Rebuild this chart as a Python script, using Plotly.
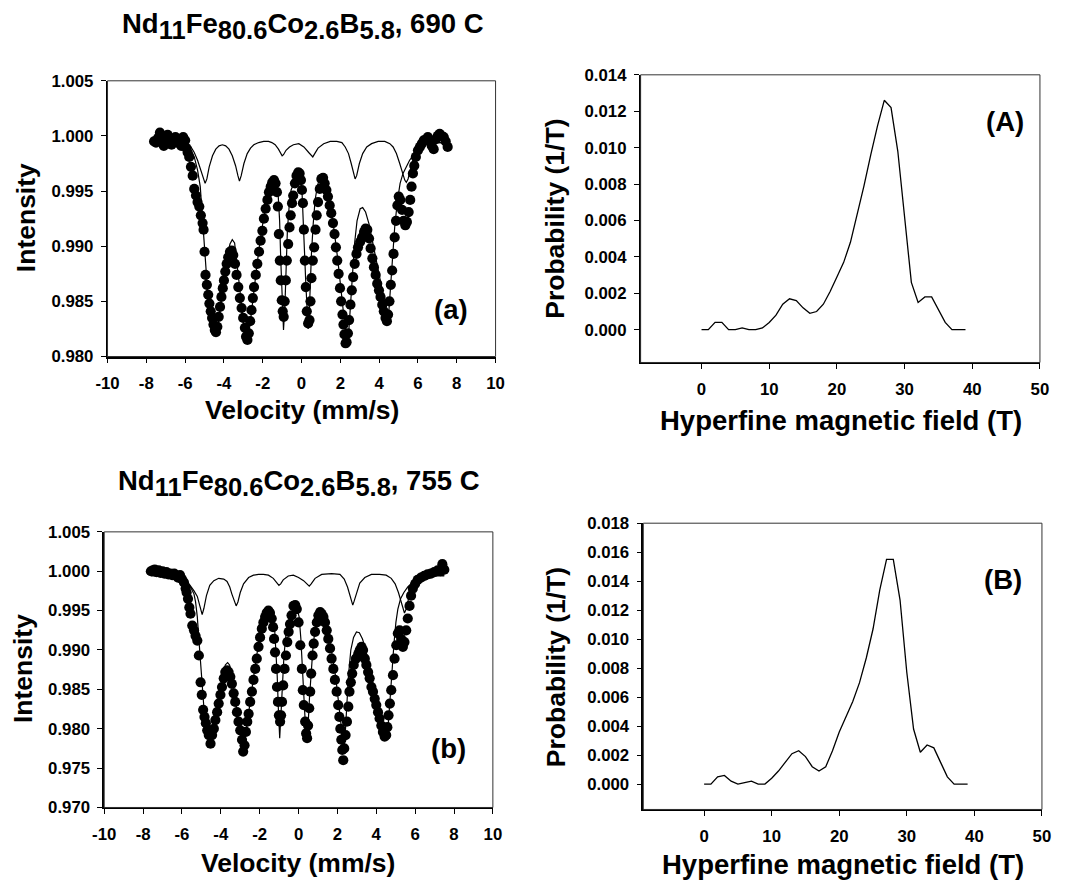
import plotly.graph_objects as go

# ---------------- data ----------------
# Top spectrum (690 C): measured points (velocity mm/s, relative intensity)
top_points = [
    (-7.60, 0.9995), (-7.50, 0.9994), (-7.40, 0.9998), (-7.30, 1.0003), (-7.20, 0.9997), (-7.10, 0.9991),
    (-7.00, 0.9996), (-6.90, 1.0001), (-6.80, 0.9998), (-6.70, 0.9992), (-6.60, 0.9996), (-6.50, 0.9999),
    (-6.40, 0.9994), (-6.30, 0.9997), (-6.20, 0.9991), (-6.10, 0.9999), (-6.00, 0.9996), (-5.93, 0.9989),
    (-5.87, 0.9985), (-5.79, 0.9981), (-5.70, 0.9972), (-5.61, 0.9964), (-5.53, 0.9952), (-5.44, 0.9946),
    (-5.36, 0.9940), (-5.27, 0.9936), (-5.19, 0.9928), (-5.10, 0.9921), (-5.05, 0.9915), (-5.00, 0.9895),
    (-4.95, 0.9874), (-4.88, 0.9865), (-4.81, 0.9856), (-4.75, 0.9848), (-4.68, 0.9841), (-4.61, 0.9835),
    (-4.54, 0.9829), (-4.47, 0.9824), (-4.41, 0.9822), (-4.34, 0.9827), (-4.27, 0.9836), (-4.20, 0.9845),
    (-4.13, 0.9854), (-4.06, 0.9862), (-4.00, 0.9869), (-3.93, 0.9877), (-3.86, 0.9884), (-3.78, 0.9890),
    (-3.69, 0.9895), (-3.60, 0.9896), (-3.52, 0.9892), (-3.43, 0.9884), (-3.35, 0.9874), (-3.26, 0.9863),
    (-3.18, 0.9853), (-3.09, 0.9844), (-3.01, 0.9835), (-2.92, 0.9826), (-2.86, 0.9818), (-2.79, 0.9815),
    (-2.72, 0.9821), (-2.65, 0.9832), (-2.58, 0.9842), (-2.51, 0.9853), (-2.45, 0.9863), (-2.36, 0.9874),
    (-2.28, 0.9884), (-2.19, 0.9895), (-2.11, 0.9905), (-2.02, 0.9914), (-1.94, 0.9925), (-1.85, 0.9934),
    (-1.76, 0.9942), (-1.68, 0.9949), (-1.59, 0.9954), (-1.51, 0.9958), (-1.42, 0.9960), (-1.34, 0.9957),
    (-1.27, 0.9949), (-1.22, 0.9936), (-1.17, 0.9911), (-1.12, 0.9887), (-1.07, 0.9869), (-1.02, 0.9851),
    (-0.97, 0.9841), (-0.92, 0.9836), (-0.87, 0.9850), (-0.81, 0.9869), (-0.76, 0.9887), (-0.69, 0.9902),
    (-0.62, 0.9917), (-0.56, 0.9928), (-0.49, 0.9939), (-0.43, 0.9946), (-0.34, 0.9957), (-0.26, 0.9964),
    (-0.17, 0.9967), (-0.10, 0.9966), (-0.03, 0.9960), (0.02, 0.9951), (0.07, 0.9939), (0.12, 0.9915),
    (0.17, 0.9887), (0.22, 0.9863), (0.27, 0.9841), (0.34, 0.9830), (0.41, 0.9833), (0.46, 0.9850),
    (0.51, 0.9871), (0.58, 0.9887), (0.65, 0.9899), (0.72, 0.9915), (0.78, 0.9928), (0.85, 0.9940),
    (0.94, 0.9952), (1.02, 0.9961), (1.11, 0.9962), (1.19, 0.9957), (1.28, 0.9951), (1.36, 0.9945),
    (1.45, 0.9937), (1.53, 0.9930), (1.62, 0.9921), (1.70, 0.9911), (1.77, 0.9899), (1.84, 0.9887),
    (1.91, 0.9875), (1.98, 0.9862), (2.04, 0.9850), (2.11, 0.9838), (2.16, 0.9829), (2.21, 0.9820),
    (2.27, 0.9812), (2.32, 0.9813), (2.39, 0.9821), (2.45, 0.9833), (2.52, 0.9847), (2.59, 0.9860),
    (2.66, 0.9872), (2.74, 0.9884), (2.83, 0.9893), (2.91, 0.9899), (3.02, 0.9904), (3.12, 0.9908),
    (3.22, 0.9913), (3.30, 0.9916), (3.39, 0.9915), (3.48, 0.9907), (3.56, 0.9898), (3.65, 0.9889),
    (3.73, 0.9881), (3.82, 0.9874), (3.90, 0.9866), (3.99, 0.9860), (4.07, 0.9854), (4.16, 0.9847),
    (4.24, 0.9841), (4.33, 0.9835), (4.40, 0.9832), (4.46, 0.9838), (4.53, 0.9850), (4.60, 0.9865),
    (4.67, 0.9878), (4.74, 0.9893), (4.80, 0.9908), (4.87, 0.9923), (4.94, 0.9937), (5.01, 0.9945),
    (5.09, 0.9942), (5.18, 0.9933), (5.26, 0.9923), (5.35, 0.9919), (5.43, 0.9922), (5.52, 0.9931),
    (5.60, 0.9942), (5.67, 0.9954), (5.74, 0.9966), (5.81, 0.9973), (5.89, 0.9981), (6.00, 0.9987),
    (6.10, 0.9990), (6.20, 0.9993), (6.30, 0.9996), (6.41, 0.9997), (6.51, 0.9999), (6.61, 0.9996),
    (6.71, 0.9991), (6.81, 0.9988), (6.92, 0.9997), (7.02, 1.0000), (7.12, 1.0002), (7.22, 1.0000),
    (7.33, 0.9999), (7.43, 0.9995), (7.53, 0.9990),
]
# Top spectrum: total fitted curve
top_fit = [
    (-7.60, 0.9995), (-6.38, 0.9994), (-5.87, 0.9990), (-5.70, 0.9987), (-5.53, 0.9981), (-5.36, 0.9969),
    (-5.22, 0.9954), (-5.16, 0.9939), (-5.09, 0.9920), (-5.02, 0.9899), (-4.93, 0.9875), (-4.85, 0.9854),
    (-4.75, 0.9836), (-4.63, 0.9824), (-4.51, 0.9819), (-4.41, 0.9821), (-4.30, 0.9830), (-4.17, 0.9848),
    (-4.00, 0.9869), (-3.83, 0.9890), (-3.69, 0.9902), (-3.57, 0.9906), (-3.45, 0.9903), (-3.35, 0.9890),
    (-3.25, 0.9872), (-3.14, 0.9854), (-3.04, 0.9836), (-2.94, 0.9821), (-2.84, 0.9814), (-2.74, 0.9818),
    (-2.63, 0.9833), (-2.50, 0.9854), (-2.33, 0.9878), (-2.16, 0.9902), (-1.99, 0.9923), (-1.82, 0.9941),
    (-1.65, 0.9955), (-1.51, 0.9961), (-1.41, 0.9962), (-1.30, 0.9958), (-1.20, 0.9945), (-1.13, 0.9923),
    (-1.07, 0.9887), (-1.00, 0.9851), (-0.93, 0.9824), (-0.86, 0.9845), (-0.79, 0.9884), (-0.73, 0.9914),
    (-0.64, 0.9936), (-0.54, 0.9951), (-0.39, 0.9957), (-0.27, 0.9963), (-0.17, 0.9965), (-0.07, 0.9962),
    (0.02, 0.9951), (0.09, 0.9927), (0.15, 0.9896), (0.22, 0.9866), (0.29, 0.9839), (0.34, 0.9825),
    (0.39, 0.9836), (0.44, 0.9863), (0.51, 0.9893), (0.60, 0.9920), (0.70, 0.9942), (0.82, 0.9955),
    (0.95, 0.9962), (1.09, 0.9963), (1.23, 0.9960), (1.36, 0.9951), (1.52, 0.9934), (1.69, 0.9913),
    (1.86, 0.9889), (2.01, 0.9863), (2.15, 0.9841), (2.25, 0.9822), (2.33, 0.9812), (2.42, 0.9819),
    (2.50, 0.9839), (2.61, 0.9872), (2.73, 0.9902), (2.86, 0.9923), (3.02, 0.9934), (3.15, 0.9935),
    (3.30, 0.9931), (3.48, 0.9920), (3.65, 0.9905), (3.82, 0.9890), (3.99, 0.9875), (4.16, 0.9860),
    (4.29, 0.9847), (4.41, 0.9838), (4.50, 0.9841), (4.58, 0.9860), (4.68, 0.9887), (4.80, 0.9917),
    (4.94, 0.9941), (5.08, 0.9957), (5.23, 0.9966), (5.40, 0.9972), (5.57, 0.9978), (5.74, 0.9982),
    (5.96, 0.9988), (6.25, 0.9993), (6.68, 0.9994), (7.53, 0.9994),
]
# Top spectrum: weak sextet sub-component
top_sub = [
    (-7.60, 0.9995), (-6.38, 0.9995), (-5.70, 0.9990), (-5.53, 0.9985), (-5.36, 0.9978), (-5.19, 0.9969),
    (-5.07, 0.9961), (-4.97, 0.9957), (-4.88, 0.9961), (-4.76, 0.9972), (-4.59, 0.9982), (-4.42, 0.9988),
    (-4.25, 0.9991), (-4.08, 0.9992), (-3.91, 0.9991), (-3.74, 0.9988), (-3.57, 0.9982), (-3.40, 0.9973),
    (-3.28, 0.9964), (-3.20, 0.9959), (-3.11, 0.9964), (-2.97, 0.9975), (-2.80, 0.9984), (-2.63, 0.9989),
    (-2.46, 0.9992), (-2.21, 0.9994), (-1.95, 0.9995), (-1.70, 0.9995), (-1.53, 0.9994), (-1.36, 0.9992),
    (-1.19, 0.9988), (-1.07, 0.9984), (-1.00, 0.9982), (-0.93, 0.9983), (-0.80, 0.9987), (-0.62, 0.9990),
    (-0.42, 0.9992), (-0.14, 0.9993), (0.12, 0.9990), (0.37, 0.9985), (0.51, 0.9982), (0.58, 0.9981),
    (0.68, 0.9984), (0.85, 0.9989), (1.14, 0.9993), (1.48, 0.9995), (1.82, 0.9995), (2.08, 0.9994),
    (2.25, 0.9990), (2.42, 0.9984), (2.56, 0.9975), (2.67, 0.9966), (2.76, 0.9961), (2.84, 0.9964),
    (2.98, 0.9975), (3.15, 0.9984), (3.36, 0.9990), (3.61, 0.9993), (3.95, 0.9995), (4.29, 0.9995),
    (4.55, 0.9993), (4.72, 0.9990), (4.89, 0.9984), (5.06, 0.9975), (5.20, 0.9966), (5.32, 0.9960),
    (5.40, 0.9958), (5.49, 0.9961), (5.62, 0.9970), (5.76, 0.9979), (5.93, 0.9986), (6.17, 0.9991),
    (6.51, 0.9993), (7.02, 0.9994), (7.53, 0.9994),
]

# Bottom spectrum (755 C): measured points
bot_points = [
    (-7.60, 1.0000), (-7.50, 1.0001), (-7.40, 1.0002), (-7.30, 0.9999), (-7.20, 1.0001), (-7.10, 0.9998),
    (-7.00, 1.0000), (-6.90, 0.9997), (-6.80, 0.9999), (-6.70, 0.9996), (-6.60, 0.9997), (-6.50, 0.9995),
    (-6.40, 0.9997), (-6.30, 0.9994), (-6.20, 0.9992), (-6.10, 0.9995), (-6.00, 0.9990), (-5.90, 0.9986),
    (-5.81, 0.9978), (-5.76, 0.9973), (-5.69, 0.9965), (-5.62, 0.9954), (-5.56, 0.9946), (-5.47, 0.9931),
    (-5.38, 0.9925), (-5.30, 0.9918), (-5.21, 0.9912), (-5.13, 0.9893), (-5.04, 0.9859), (-4.98, 0.9843),
    (-4.91, 0.9824), (-4.84, 0.9815), (-4.77, 0.9807), (-4.70, 0.9798), (-4.62, 0.9792), (-4.53, 0.9781),
    (-4.45, 0.9792), (-4.36, 0.9800), (-4.28, 0.9811), (-4.19, 0.9821), (-4.11, 0.9832), (-4.02, 0.9843),
    (-3.94, 0.9853), (-3.85, 0.9864), (-3.77, 0.9872), (-3.68, 0.9874), (-3.60, 0.9872), (-3.51, 0.9866),
    (-3.43, 0.9857), (-3.34, 0.9845), (-3.26, 0.9834), (-3.17, 0.9821), (-3.09, 0.9809), (-3.00, 0.9798),
    (-2.91, 0.9786), (-2.85, 0.9771), (-2.78, 0.9779), (-2.71, 0.9796), (-2.64, 0.9809), (-2.57, 0.9819),
    (-2.49, 0.9834), (-2.40, 0.9847), (-2.32, 0.9862), (-2.23, 0.9876), (-2.15, 0.9889), (-2.06, 0.9904),
    (-1.98, 0.9916), (-1.89, 0.9927), (-1.81, 0.9935), (-1.72, 0.9942), (-1.64, 0.9947), (-1.55, 0.9950),
    (-1.47, 0.9947), (-1.38, 0.9940), (-1.31, 0.9929), (-1.26, 0.9914), (-1.21, 0.9897), (-1.16, 0.9876),
    (-1.11, 0.9853), (-1.06, 0.9834), (-1.01, 0.9817), (-0.95, 0.9809), (-0.90, 0.9817), (-0.85, 0.9834),
    (-0.79, 0.9855), (-0.72, 0.9876), (-0.65, 0.9893), (-0.58, 0.9910), (-0.51, 0.9923), (-0.44, 0.9933),
    (-0.36, 0.9944), (-0.26, 0.9956), (-0.17, 0.9957), (-0.09, 0.9952), (0.00, 0.9935), (0.09, 0.9906),
    (0.17, 0.9876), (0.22, 0.9849), (0.27, 0.9830), (0.34, 0.9809), (0.39, 0.9794), (0.44, 0.9788),
    (0.49, 0.9804), (0.55, 0.9826), (0.60, 0.9847), (0.65, 0.9870), (0.72, 0.9893), (0.78, 0.9908),
    (0.85, 0.9923), (0.94, 0.9935), (1.02, 0.9944), (1.11, 0.9948), (1.19, 0.9946), (1.28, 0.9942),
    (1.36, 0.9935), (1.45, 0.9925), (1.53, 0.9914), (1.62, 0.9902), (1.70, 0.9889), (1.79, 0.9876),
    (1.87, 0.9862), (1.96, 0.9847), (2.04, 0.9830), (2.10, 0.9815), (2.15, 0.9800), (2.20, 0.9786),
    (2.25, 0.9773), (2.30, 0.9760), (2.35, 0.9775), (2.42, 0.9792), (2.49, 0.9809), (2.56, 0.9828),
    (2.62, 0.9847), (2.69, 0.9859), (2.76, 0.9870), (2.84, 0.9881), (2.95, 0.9889), (3.07, 0.9895),
    (3.15, 0.9900), (3.24, 0.9904), (3.32, 0.9900), (3.41, 0.9889), (3.49, 0.9881), (3.58, 0.9872),
    (3.66, 0.9864), (3.75, 0.9853), (3.83, 0.9847), (3.92, 0.9838), (4.00, 0.9830), (4.09, 0.9821),
    (4.17, 0.9813), (4.26, 0.9804), (4.34, 0.9796), (4.43, 0.9790), (4.51, 0.9792), (4.57, 0.9802),
    (4.63, 0.9817), (4.70, 0.9832), (4.77, 0.9849), (4.86, 0.9868), (4.94, 0.9889), (5.03, 0.9906),
    (5.11, 0.9921), (5.20, 0.9925), (5.28, 0.9914), (5.37, 0.9904), (5.45, 0.9910), (5.54, 0.9925),
    (5.62, 0.9940), (5.71, 0.9956), (5.79, 0.9969), (5.88, 0.9978), (6.00, 0.9984), (6.13, 0.9989),
    (6.30, 0.9992), (6.47, 0.9994), (6.64, 0.9996), (6.81, 0.9997), (6.98, 0.9999), (7.16, 1.0001),
    (7.30, 1.0000), (7.40, 1.0009), (7.50, 1.0002),
]
bot_fit = [
    (-7.60, 0.9995), (-6.50, 0.9994), (-6.07, 0.9992), (-5.73, 0.9986), (-5.56, 0.9980), (-5.38, 0.9971),
    (-5.30, 0.9961), (-5.21, 0.9942), (-5.13, 0.9914), (-5.04, 0.9881), (-4.96, 0.9847), (-4.87, 0.9826),
    (-4.75, 0.9807), (-4.62, 0.9796), (-4.50, 0.9792), (-4.40, 0.9796), (-4.28, 0.9809), (-4.16, 0.9826),
    (-4.02, 0.9847), (-3.89, 0.9868), (-3.77, 0.9881), (-3.65, 0.9884), (-3.55, 0.9881), (-3.43, 0.9868),
    (-3.31, 0.9847), (-3.17, 0.9821), (-3.05, 0.9800), (-2.95, 0.9786), (-2.86, 0.9779), (-2.78, 0.9786),
    (-2.66, 0.9804), (-2.52, 0.9830), (-2.35, 0.9859), (-2.18, 0.9889), (-2.01, 0.9914), (-1.84, 0.9933),
    (-1.67, 0.9946), (-1.53, 0.9952), (-1.42, 0.9952), (-1.32, 0.9946), (-1.24, 0.9931), (-1.17, 0.9906),
    (-1.10, 0.9868), (-1.04, 0.9826), (-0.97, 0.9788), (-0.90, 0.9821), (-0.83, 0.9859), (-0.75, 0.9893),
    (-0.65, 0.9919), (-0.53, 0.9935), (-0.36, 0.9948), (-0.20, 0.9956), (-0.09, 0.9954), (0.03, 0.9942),
    (0.12, 0.9914), (0.20, 0.9872), (0.29, 0.9830), (0.37, 0.9796), (0.43, 0.9786), (0.49, 0.9804),
    (0.56, 0.9838), (0.65, 0.9876), (0.75, 0.9906), (0.87, 0.9929), (1.01, 0.9944), (1.16, 0.9949),
    (1.29, 0.9946), (1.43, 0.9935), (1.58, 0.9916), (1.75, 0.9891), (1.92, 0.9864), (2.06, 0.9836),
    (2.18, 0.9807), (2.25, 0.9783), (2.32, 0.9771), (2.39, 0.9788), (2.47, 0.9826), (2.57, 0.9868),
    (2.69, 0.9900), (2.83, 0.9916), (2.98, 0.9923), (3.13, 0.9922), (3.29, 0.9914), (3.44, 0.9902),
    (3.61, 0.9883), (3.78, 0.9862), (3.95, 0.9843), (4.12, 0.9824), (4.29, 0.9807), (4.43, 0.9796),
    (4.53, 0.9794), (4.62, 0.9807), (4.70, 0.9834), (4.80, 0.9872), (4.91, 0.9908), (5.01, 0.9935),
    (5.11, 0.9952), (5.25, 0.9965), (5.42, 0.9973), (5.62, 0.9980), (5.88, 0.9986), (6.22, 0.9991),
    (6.64, 0.9994), (7.50, 0.9995),
]
bot_sub = [
    (-7.60, 0.9994), (-6.50, 0.9994), (-6.00, 0.9991), (-5.70, 0.9986), (-5.38, 0.9975), (-5.21, 0.9968),
    (-5.08, 0.9956), (-4.96, 0.9945), (-4.87, 0.9953), (-4.74, 0.9969), (-4.57, 0.9982), (-4.36, 0.9988),
    (-4.11, 0.9991), (-3.85, 0.9990), (-3.68, 0.9987), (-3.54, 0.9980), (-3.43, 0.9971), (-3.31, 0.9962),
    (-3.21, 0.9956), (-3.12, 0.9961), (-3.00, 0.9973), (-2.83, 0.9984), (-2.57, 0.9992), (-2.32, 0.9995),
    (-2.06, 0.9996), (-1.81, 0.9996), (-1.55, 0.9995), (-1.30, 0.9991), (-1.13, 0.9986), (-1.01, 0.9982),
    (-0.92, 0.9984), (-0.79, 0.9989), (-0.53, 0.9994), (-0.27, 0.9995), (0.00, 0.9992), (0.26, 0.9988),
    (0.43, 0.9984), (0.55, 0.9981), (0.65, 0.9984), (0.85, 0.9991), (1.19, 0.9996), (1.70, 0.9997),
    (2.13, 0.9996), (2.35, 0.9990), (2.52, 0.9980), (2.66, 0.9967), (2.74, 0.9959), (2.79, 0.9957),
    (2.86, 0.9962), (2.98, 0.9973), (3.15, 0.9985), (3.41, 0.9992), (3.75, 0.9996), (4.17, 0.9996),
    (4.51, 0.9995), (4.77, 0.9991), (4.97, 0.9984), (5.14, 0.9973), (5.28, 0.9961), (5.38, 0.9950),
    (5.45, 0.9947), (5.54, 0.9952), (5.66, 0.9965), (5.83, 0.9978), (6.05, 0.9986), (6.39, 0.9991),
    (6.81, 0.9994), (7.50, 0.9994),
]

# Hyperfine field distributions
field_T = list(range(0, 40))
prob_A = [0, 0, 0.0004, 0.0004, 0, 0, 0.0001, 0, 0, 0.0001,
          0.0004, 0.0008, 0.0014, 0.0017, 0.0016, 0.0012, 0.0009, 0.0010, 0.0014, 0.0021,
          0.0029, 0.0037, 0.0048, 0.0063, 0.0079, 0.0096, 0.0112, 0.0126, 0.0122, 0.0098,
          0.0062, 0.0026, 0.0015, 0.0018, 0.0018, 0.0011, 0.0004, 0, 0, 0]
prob_B = [0, 0, 0.0005, 0.0006, 0.0002, 0, 0.0001, 0.0002, 0, 0,
          0.0004, 0.0009, 0.0015, 0.0021, 0.0023, 0.0019, 0.0012, 0.0009, 0.0012, 0.0023,
          0.0036, 0.0046, 0.0057, 0.0070, 0.0087, 0.0107, 0.0134, 0.0155, 0.0155, 0.0127,
          0.0077, 0.0038, 0.0022, 0.0027, 0.0025, 0.0015, 0.0005, 0, 0, 0]

vel_ticks = list(range(-10, 11, 2))
vel_labels = [str(v) for v in vel_ticks]          # plain hyphen minus, as in the reference
field_ticks = [0, 10, 20, 30, 40, 50]
int_ticks_top = [0.980, 0.985, 0.990, 0.995, 1.000, 1.005]
int_ticks_bot = [0.970, 0.975, 0.980, 0.985, 0.990, 0.995, 1.000, 1.005]
prob_ticks_A = [0.000, 0.002, 0.004, 0.006, 0.008, 0.010, 0.012, 0.014]
prob_ticks_B = [0.000, 0.002, 0.004, 0.006, 0.008, 0.010, 0.012, 0.014, 0.016, 0.018]

# ---------------- figure ----------------
W, H = 1068, 882
FONT = "Liberation Sans, Arial, Helvetica, sans-serif"
S = 0.982            # compensation for the slight shrink seen in the photographed page


def tx(x):
    return W / 2 + (x - W / 2) / S


def ty(y):
    return H / 2 + (y - H / 2) / S


def px_x(x):
    return tx(x) / W


def px_y(y):
    return 1 - ty(y) / H


def fs(size):
    return round(size / S, 1)


def unzip(pairs):
    return [p[0] for p in pairs], [p[1] for p in pairs]


fig = go.Figure()
line_style = dict(color="black", width=1.2)

for pts, fit, sub, ax in [(top_points, top_fit, top_sub, ("x", "y")),
                          (bot_points, bot_fit, bot_sub, ("x3", "y3"))]:
    xs, ys = unzip(sub)
    fig.add_trace(go.Scatter(x=xs, y=ys, mode="lines", line=line_style,
                             xaxis=ax[0], yaxis=ax[1], showlegend=False, hoverinfo="skip"))
    xs, ys = unzip(fit)
    fig.add_trace(go.Scatter(x=xs, y=ys, mode="lines", line=line_style,
                             xaxis=ax[0], yaxis=ax[1], showlegend=False, hoverinfo="skip"))
    xs, ys = unzip(pts)
    fig.add_trace(go.Scatter(x=xs, y=ys, mode="markers",
                             marker=dict(color="black", size=fs(10), line=dict(width=0)),
                             xaxis=ax[0], yaxis=ax[1], showlegend=False))

fig.add_trace(go.Scatter(x=field_T, y=prob_A, mode="lines", line=dict(color="black", width=1.3),
                         xaxis="x2", yaxis="y2", showlegend=False))
fig.add_trace(go.Scatter(x=field_T, y=prob_B, mode="lines", line=dict(color="black", width=1.3),
                         xaxis="x4", yaxis="y4", showlegend=False))

tickfont = dict(family=FONT, size=fs(16.5), color="black", weight="bold")


def axis(domain, rng, ticks, fmt=None, anchor=None, standoff=4, labels=None):
    d = dict(domain=domain, range=rng, tickmode="array", tickvals=ticks,
             showgrid=False, zeroline=False, showline=True, linecolor="black", linewidth=1.5,
             mirror=False, ticks="outside", ticklen=5, tickwidth=1.3, tickcolor="black",
             tickfont=tickfont, anchor=anchor, ticklabelstandoff=standoff, fixedrange=True)
    if fmt:
        d["tickformat"] = fmt
    if labels:
        d["ticktext"] = labels
    return d


# pixel boxes of the four plot areas (as measured on the reference)
boxes = {
    "TL": (105.3, 494.0, 80.0, 356.7),
    "TR": (639.3, 1039.3, 74.0, 362.7),
    "BL": (102.0, 491.3, 532.7, 809.3),
    "BR": (642.0, 1041.3, 524.0, 811.3),
}


def dom(b):
    x0, x1, y0, y1 = b
    return [px_x(x0), px_x(x1)], [px_y(y1), px_y(y0)]


dTLx, dTLy = dom(boxes["TL"])
dTRx, dTRy = dom(boxes["TR"])
dBLx, dBLy = dom(boxes["BL"])
dBRx, dBRy = dom(boxes["BR"])

fig.update_layout(
    width=W, height=H, margin=dict(l=0, r=0, t=0, b=0),
    paper_bgcolor="white", plot_bgcolor="white", showlegend=False,
    font=dict(family=FONT, color="black"),
    xaxis=axis(dTLx, [-10, 10], vel_ticks, anchor="y", standoff=6, labels=vel_labels),
    yaxis=axis(dTLy, [0.980, 1.005], int_ticks_top, ".3f", anchor="x"),
    xaxis2=axis(dTRx, [-9, 50], field_ticks, anchor="y2", standoff=6),
    yaxis2=axis(dTRy, [-0.0018, 0.014], prob_ticks_A, ".3f", anchor="x2"),
    xaxis3=axis(dBLx, [-10, 10], vel_ticks, anchor="y3", standoff=6, labels=vel_labels),
    yaxis3=axis(dBLy, [0.970, 1.005], int_ticks_bot, ".3f", anchor="x3"),
    xaxis4=axis(dBRx, [-9, 50], field_ticks, anchor="y4", standoff=6),
    yaxis4=axis(dBRy, [-0.00175, 0.018], prob_ticks_B, ".3f", anchor="x4"),
)

# thin frame around each plot area
for xr, yr in [("x", "y"), ("x2", "y2"), ("x3", "y3"), ("x4", "y4")]:
    fig.add_shape(type="rect", xref=f"{xr} domain", yref=f"{yr} domain",
                  x0=0, x1=1, y0=0, y1=1, line=dict(color="#333333", width=1), layer="above")


def ann(text, x, y, size, angle=0):
    fig.add_annotation(text=text, x=px_x(x), y=px_y(y), xref="paper", yref="paper",
                       showarrow=False, textangle=angle, xanchor="center", yanchor="middle",
                       font=dict(family=FONT, size=fs(size), color="black", weight="bold"))


def sub(s):
    return f"<sub><span style='font-size:{fs(25)}px'>{s}</span></sub>"


title_top = "Nd" + sub("11") + "Fe" + sub("80.6") + "Co" + sub("2.6") + "B" + sub("5.8") + ", 690 C"
title_bot = "Nd" + sub("11") + "Fe" + sub("80.6") + "Co" + sub("2.6") + "B" + sub("5.8") + ", 755 C"
ann(title_top, 301, 25, 27)
ann(title_bot, 297, 484, 27)

ann("Intensity", 23, 217.5, 26, -90)
ann("Intensity", 20, 670, 26, -90)
ann("Velocity (mm/s)", 300, 410, 26)
ann("Velocity (mm/s)", 296, 865, 26)
ann("Probability (1/T)", 554, 218, 26, -90)
ann("Probability (1/T)", 554, 668, 26, -90)
ann("Hyperfine magnetic field (T)", 840, 421, 27)
ann("Hyperfine magnetic field (T)", 842, 867, 27)

ann("(a)", 449, 310, 27)
ann("(b)", 447, 750, 27)
ann("(A)", 1004, 121, 27)
ann("(B)", 1002, 581, 27)

fig.write_html("out.html", config={"displayModeBar": False},
               post_script="document.body.style.margin='0px';")
